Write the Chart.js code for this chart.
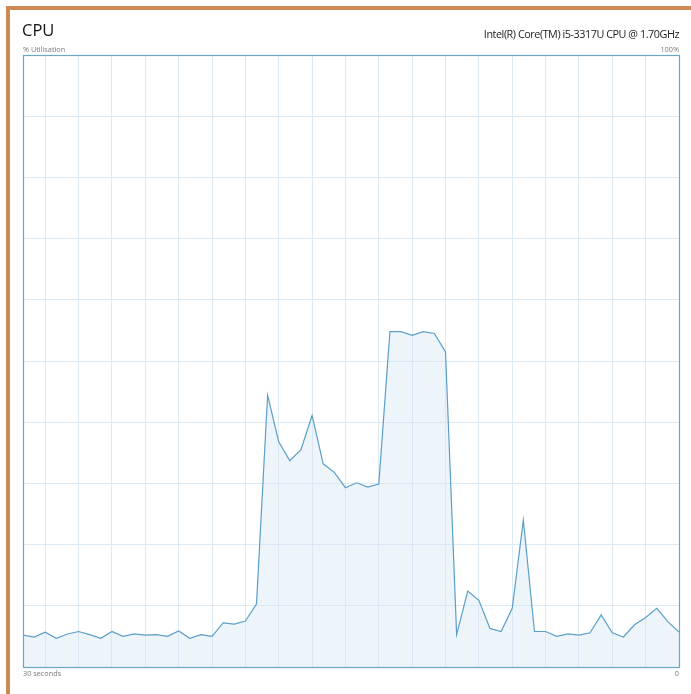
<!DOCTYPE html>
<html>
<head>
<meta charset="utf-8">
<title>CPU</title>
<script src="https://cdn.jsdelivr.net/npm/chart.js@4/dist/chart.umd.min.js"></script>
<style>
  html, body { margin: 0; padding: 0; background: #fff; }
  body { width: 691px; height: 694px; position: relative; overflow: hidden; font-family: "Open Sans", "Noto Sans", sans-serif; }
  .frame { position: absolute; left: 6px; top: 6px; right: -10px; bottom: -10px; border-left: 4px solid #cc8b55; border-top: 4px solid #cc8b55; }
  #cpuChart { position: absolute; left: 0; top: 0; }
  .lbl { position: absolute; white-space: nowrap; color: #7a7a7a; }
  .title { left: 22px; top: 18px; font-size: 16.5px; color: #111; }
  .model { right: 12px; top: 26px; font-size: 10.8px; letter-spacing: -0.45px; color: #222; }
  .small { font-size: 7.3px; }
</style>
</head>
<body>
<div class="frame"></div>
<canvas id="cpuChart" width="691" height="694"></canvas>
<div class="lbl title">CPU</div>
<div class="lbl model">Intel(R) Core(TM) i5-3317U CPU @ 1.70GHz</div>
<div class="lbl small" style="left:23px; top:44px;">% Utilisation</div>
<div class="lbl small" style="right:12px; top:44px;">100%</div>
<div class="lbl small" style="left:23px; top:668px;">30 seconds</div>
<div class="lbl small" style="right:12px; top:668px;">0</div>

<script>
  // Samples, oldest first (one per tick of the history window)
  const sampleIndex = Array.from({ length: 60 }, (_, i) => i);
  const utilisation = [
    5.2, 4.9, 5.7, 4.7, 5.4, 5.8, 5.3, 4.7, 5.8, 5.0,
    5.4, 5.2, 5.3, 5.0, 5.9, 4.7, 5.3, 5.0, 7.2, 7.0,
    7.5, 10.3, 44.4, 36.8, 33.7, 35.5, 41.1, 33.2, 31.8, 29.3,
    30.1, 29.4, 29.9, 54.8, 54.8, 54.2, 54.8, 54.5, 51.5, 5.3,
    12.4, 10.9, 6.3, 5.8, 9.6, 24.0, 5.8, 5.8, 5.0, 5.4,
    5.2, 5.6, 8.5, 5.6, 4.9, 6.9, 8.1, 9.6, 7.4, 5.7
  ];
  // vertical grid scrolls with the data, so it sits at every third sample from 2
  const gridSamples = [2, 5, 8, 11, 14, 17, 20, 23, 26, 29, 32, 35, 38, 41, 44, 47, 50, 53, 56, 59];

  const lineColor = '#5c9fc9';
  const gridColor = '#dbeaf4';

  // outline of the plot area
  const plotBorder = {
    id: 'plotBorder',
    afterDraw(chart) {
      const { ctx, chartArea: a } = chart;
      ctx.save();
      ctx.strokeStyle = '#6aa6c6';
      ctx.lineWidth = 1.2;
      ctx.strokeRect(a.left + 0.5, a.top + 0.5, a.right - a.left, a.bottom - a.top);
      ctx.restore();
    }
  };

  new Chart(document.getElementById('cpuChart'), {
    type: 'line',
    data: {
      labels: sampleIndex,
      datasets: [{
        data: utilisation.map((v, i) => ({ x: sampleIndex[i], y: v })),
        borderColor: lineColor,
        borderWidth: 1.2,
        backgroundColor: 'rgba(214, 231, 243, 0.45)',
        fill: 'origin',
        pointRadius: 0,
        tension: 0
      }]
    },
    options: {
      responsive: false,
      animation: false,
      layout: { padding: { left: 23, top: 55, right: 12, bottom: 27 } },
      plugins: { legend: { display: false }, tooltip: { enabled: false } },
      scales: {
        x: {
          type: 'linear',
          min: 0,
          max: 59,
          afterBuildTicks(scale) {
            scale.ticks = gridSamples.map(v => ({ value: v }));
          },
          ticks: { display: false },
          grid: { color: gridColor, drawTicks: false },
          border: { display: false }
        },
        y: {
          min: 0,
          max: 100,
          ticks: { display: false, stepSize: 10 },
          grid: { color: gridColor, drawTicks: false },
          border: { display: false }
        }
      }
    },
    plugins: [plotBorder]
  });
</script>
</body>
</html>
